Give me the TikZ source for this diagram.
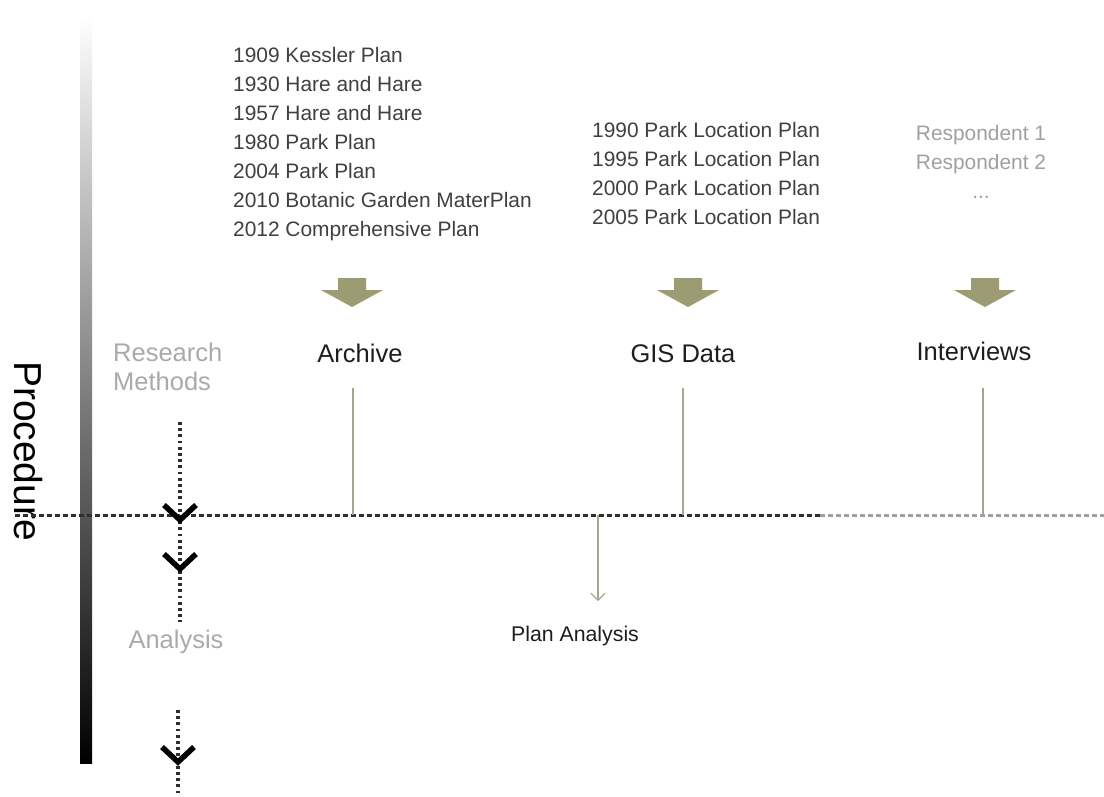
\documentclass[tikz,border=0pt]{standalone}
\usepackage{fontspec}
\setmainfont{Liberation Sans}
\usetikzlibrary{arrows.meta}
\definecolor{olivefill}{HTML}{9D9B73}
\definecolor{oliveline}{HTML}{A8A690}
\definecolor{listtext}{HTML}{404040}
\definecolor{lighttext}{HTML}{A0A0A0}
\definecolor{methodtext}{HTML}{AAAAAA}
\definecolor{dotdark}{HTML}{2E2E2E}
\definecolor{dotgray}{HTML}{A0A0A0}
\definecolor{headtext}{HTML}{1E1E1E}
\begin{document}
\begin{tikzpicture}[x=1pt,y=-1pt,
  listnode/.style={anchor=north west, inner sep=0pt, align=left, text=listtext, font=\fontsize{20.9}{29}\selectfont},
  headnode/.style={inner sep=0pt, text height=18.3pt, text depth=0pt, font=\fontsize{25.5}{29}\selectfont, text=headtext},
  methodnode/.style={inner sep=0pt, anchor=north west, align=left, text=methodtext, font=\fontsize{25.5}{29}\selectfont},
  hdots/.style={line width=3pt, dash pattern=on 4.5pt off 3.5pt},
  vdots/.style={line width=3.3pt, dash pattern=on 2.8pt off 3.4pt, dotdark},
  chevron/.style={line width=5.5pt, line join=miter, black},
  stem/.style={oliveline, line width=1.5pt},
  blockarrow/.pic={\fill[olivefill] (-14,0)--(14,0)--(14,12)--(31,12)--(0,29)--(-31,12)--(-14,12)--cycle;}
]
\useasboundingbox (0,0) rectangle (1104,796);
\fill[white] (0,0) rectangle (1104,796);

% gradient bar
\shade[top color=white, bottom color=black] (80,15) rectangle (92,763);

% Procedure
\node[rotate=-90, inner sep=0pt, text height=28pt, text depth=0pt, font=\fontsize{39}{40}\selectfont, text=black] (proc) at (29,451) {Procedure};

% source lists
\node[listnode] (archlist) at (233,47.5) {1909 Kessler Plan\\1930 Hare and Hare\\1957 Hare and Hare\\1980 Park Plan\\2004 Park Plan\\2010 Botanic Garden MaterPlan\\2012 Comprehensive Plan};
\node[listnode] (gislist) at (592,122.5) {1990 Park Location Plan\\1995 Park Location Plan\\2000 Park Location Plan\\2005 Park Location Plan};
\node[listnode, align=center, text=lighttext, anchor=north] (resplist) at (981,125.5) {Respondent 1\\Respondent 2\\...};

% block arrows
\pic at (352,278) {blockarrow};
\pic at (688,278) {blockarrow};
\pic at (985,278) {blockarrow};

% method labels
\node[headnode] (archive) at (360,353) {Archive};
\node[headnode] (gis) at (683,353) {GIS Data};
\node[headnode] (interviews) at (974,351) {Interviews};
\node[methodnode] (rm) at (113,342.8) {Research\\Methods};
\node[inner sep=0pt, text height=18.3pt, text depth=0pt, text=methodtext, font=\fontsize{25.5}{29}\selectfont] (analysis) at (176,639) {Analysis};
\node[inner sep=0pt, text height=15.3pt, text depth=0pt, text=headtext, font=\fontsize{21.3}{29}\selectfont] (plan) at (575,634) {Plan Analysis};

% coordinates
\coordinate (aTop) at (353,388);
\coordinate (aBot) at (353,515);
\coordinate (gTop) at (683,388);
\coordinate (gBot) at (683,515);
\coordinate (iTop) at (983,388);
\coordinate (iBot) at (983,515);
\coordinate (pTop) at (598,515);
\coordinate (pBot) at (598,601);
\coordinate (hL) at (15,515);
\coordinate (hM) at (820,515);
\coordinate (hR) at (1104,515);
\coordinate (v1T) at (180,422);
\coordinate (v1B) at (180,622);
\coordinate (v2T) at (178,710);
\coordinate (v2B) at (178,796);

% dotted lines
\draw[hdots, dotdark] (hL) -- (hM);
\draw[hdots, dotgray] (hM) -- (hR);
\draw[vdots] (v1T) -- (v1B);
\draw[vdots] (v2T) -- (v2B);

% stems
\draw[stem] (aTop) -- (aBot);
\draw[stem] (gTop) -- (gBot);
\draw[stem] (iTop) -- (iBot);
\draw[stem, line width=1.2pt, -{Straight Barb[length=7pt,width=14pt]}] (pTop) -- (pBot);

% chevrons
\draw[chevron] (164,505) -- (180,520) -- (196,505);
\draw[chevron] (164,554) -- (180,569) -- (196,554);
\draw[chevron] (162,747) -- (178,762) -- (194,747);
\end{tikzpicture}
\end{document}
